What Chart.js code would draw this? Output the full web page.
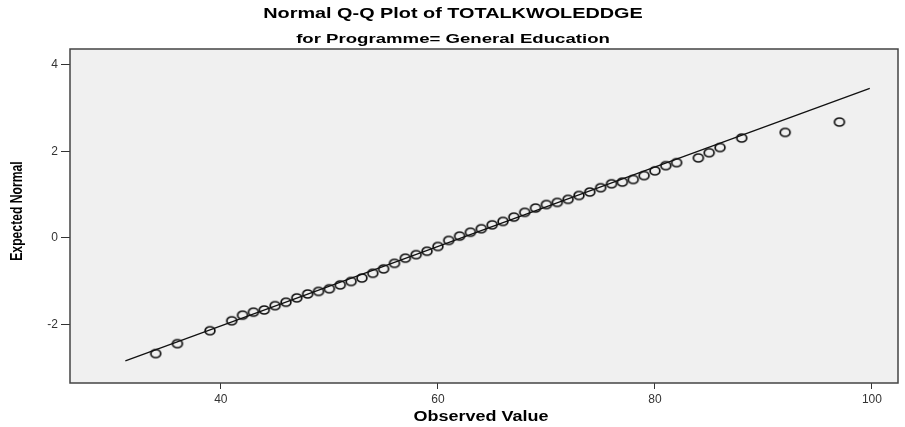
<!DOCTYPE html>
<html>
<head>
<meta charset="utf-8">
<script src="https://cdn.jsdelivr.net/npm/chart.js@4/dist/chart.umd.min.js"></script>
<style>
  html, body { margin: 0; padding: 0; background: #ffffff; }
  #wrap { width: 905px; height: 427px; }
</style>
</head>
<body>
<div id="wrap"><canvas id="qq" width="905" height="427"></canvas></div>
<script>
// Observed scores and their expected normal quantiles
const observedValues = [34, 36, 39, 41, 42, 43, 44, 45, 46, 47, 48, 49, 50, 51, 52, 53, 54, 55, 56, 57,
  58, 59, 60, 61, 62, 63, 64, 65, 66, 67, 68, 69, 70, 71, 72, 73, 74, 75, 76, 77,
  78, 79, 80, 81, 82, 84, 85, 86, 88, 92, 97];
const expectedNormal = [-2.68, -2.45, -2.15, -1.92, -1.79, -1.72, -1.67, -1.57, -1.49, -1.39,
  -1.30, -1.24, -1.18, -1.09, -1.01, -0.93, -0.82, -0.72, -0.59, -0.47,
  -0.39, -0.31, -0.20, -0.06, 0.04, 0.13, 0.21, 0.30, 0.38, 0.48,
  0.59, 0.69, 0.77, 0.82, 0.89, 0.98, 1.06, 1.16, 1.25, 1.29,
  1.35, 1.44, 1.55, 1.67, 1.74, 1.85, 1.97, 2.09, 2.31, 2.44, 2.68];

// Reference line endpoints (observed, expected)
const refLineX = [31.2, 99.8];
const refLineY = [-2.85, 3.46];

// Tick labels
const xTickValues = [40, 60, 80, 100];
const yTickValues = [-2, 0, 2, 4];

const titleText = 'Normal Q-Q Plot of TOTALKWOLEDDGE';
const subtitleText = 'for Programme= General Education';
const xTitle = 'Observed Value';
const yTitle = 'Expected Normal';

const points = observedValues.map((v, i) => ({ x: v, y: expectedNormal[i] }));
const linePts = refLineX.map((v, i) => ({ x: v, y: refLineY[i] }));

// Hollow, slightly wide ring used as the point marker
function ringMarker() {
  const c = document.createElement('canvas');
  c.width = 14; c.height = 12;
  const g = c.getContext('2d');
  g.strokeStyle = '#111111';
  g.lineWidth = 1.7;
  g.beginPath();
  g.ellipse(7, 6, 4.9, 4.0, 0, 0, Math.PI * 2);
  g.stroke();
  return c;
}

// Draw text stretched horizontally
function wideText(ctx, text, x, y, font, sx, sy) {
  ctx.save();
  ctx.translate(x, y);
  ctx.scale(sx, sy || 1);
  ctx.font = font;
  ctx.fillText(text, 0, 0);
  ctx.restore();
}

const frame = {
  id: 'frame',
  beforeDraw(chart) {
    const { ctx, chartArea: a } = chart;
    ctx.save();
    ctx.fillStyle = '#f0f0f0';
    ctx.fillRect(a.left, a.top, a.right - a.left, a.bottom - a.top);
    ctx.restore();
  },
  afterDraw(chart) {
    const { ctx, chartArea: a } = chart;
    ctx.save();
    ctx.strokeStyle = '#444444';
    ctx.lineWidth = 1.5;
    ctx.strokeRect(a.left, a.top, a.right - a.left, a.bottom - a.top);

    ctx.fillStyle = '#000000';
    ctx.textAlign = 'center';
    ctx.textBaseline = 'middle';
    wideText(ctx, titleText, 453, 14, 'bold 15.5px "Liberation Sans", Arial, sans-serif', 1.28);
    wideText(ctx, subtitleText, 453, 40, 'bold 12px "Liberation Sans", Arial, sans-serif', 1.55);
    wideText(ctx, xTitle, 481, 417, 'bold 14.5px "Liberation Sans", Arial, sans-serif', 1.24);

    // vertical axis title
    ctx.translate(17, 211);
    ctx.rotate(-Math.PI / 2);
    ctx.scale(0.87, 1.2);
    ctx.font = 'bold 14px "Liberation Sans", Arial, sans-serif';
    ctx.fillText(yTitle, 0, 0);
    ctx.restore();
  }
};

new Chart(document.getElementById('qq'), {
  type: 'scatter',
  data: {
    datasets: [
      {
        data: points,
        showLine: false,
        pointStyle: ringMarker(),
        pointRadius: 5,
        order: 1
      },
      {
        type: 'line',
        data: linePts,
        showLine: true,
        borderColor: '#111111',
        borderWidth: 1.3,
        pointRadius: 0,
        fill: false,
        order: 2
      }
    ]
  },
  plugins: [frame],
  options: {
    responsive: false,
    animation: false,
    devicePixelRatio: 1,
    layout: { padding: { top: 49, right: 7, left: 0, bottom: 0 } },
    plugins: {
      legend: { display: false },
      tooltip: { enabled: false },
      title: { display: false }
    },
    scales: {
      x: {
        type: 'linear',
        min: 26.1,
        max: 102.4,
        afterBuildTicks(scale) { scale.ticks = xTickValues.map(v => ({ value: v })); },
        afterFit(scale) { scale.height = 44; },
        border: { display: false },
        grid: { drawOnChartArea: false, drawTicks: true, tickLength: 6, color: '#333333', lineWidth: 1 },
        ticks: {
          color: '#333333',
          padding: 3,
          maxRotation: 0,
          font: { family: '"Liberation Sans", Arial, sans-serif', size: 12 }
        }
      },
      y: {
        type: 'linear',
        min: -3.36,
        max: 4.37,
        afterBuildTicks(scale) { scale.ticks = yTickValues.map(v => ({ value: v })); },
        afterFit(scale) { scale.width = 70; },
        border: { display: false },
        grid: { drawOnChartArea: false, drawTicks: true, tickLength: 9, color: '#333333', lineWidth: 1 },
        ticks: {
          color: '#333333',
          padding: 3,
          font: { family: '"Liberation Sans", Arial, sans-serif', size: 12 }
        }
      }
    }
  }
});
</script>
</body>
</html>
